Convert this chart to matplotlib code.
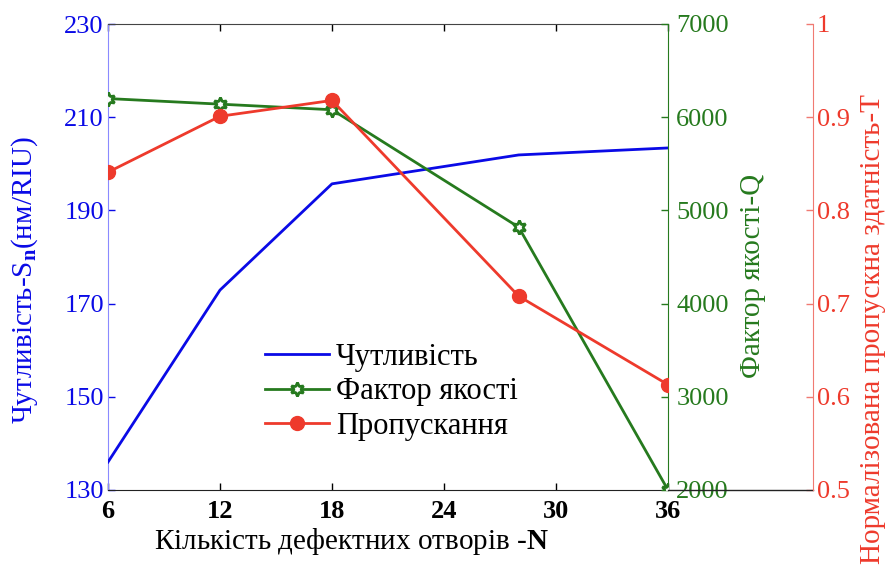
import matplotlib
matplotlib.use("Agg")
import matplotlib.pyplot as plt
from matplotlib.lines import Line2D

plt.rcParams['font.family'] = ['Liberation Serif', 'DejaVu Serif']
plt.rcParams['mathtext.fontset'] = 'custom'
plt.rcParams['mathtext.rm'] = 'Liberation Serif'
plt.rcParams['mathtext.it'] = 'Liberation Serif:italic'
plt.rcParams['mathtext.bf'] = 'Liberation Serif:bold'

# Number of defect holes
holes = [6, 12, 18, 28, 36]
# Sensitivity, nm/RIU
sensitivity = [136.0, 172.9, 195.7, 201.9, 203.4]
# Quality factor
quality = [6200, 6140, 6080, 4820, 2000]
# Normalized transmission
transmission = [0.841, 0.901, 0.918, 0.708, 0.613]

x_ticks = [6, 12, 18, 24, 30, 36]
s_ticks = [130, 150, 170, 190, 210, 230]
q_ticks = [2000, 3000, 4000, 5000, 6000, 7000]
t_ticks = [0.5, 0.6, 0.7, 0.8, 0.9, 1.0]
t_labels = ['0.5', '0.6', '0.7', '0.8', '0.9', '1']

BLUE = '#0a0ae6'
GREEN = '#267a1e'
RED = '#ee3a2c'
FS_TICK = 19
FS_LAB = 21
FS_LEG = 22

W, H = 890, 580
fig = plt.figure(figsize=(W / 100, H / 100), dpi=100)
L, R, T, B = 108, 668, 24, 490
ax = fig.add_axes([L / W, 1 - B / H, (R - L) / W, (B - T) / H])
axq = ax.twinx()
axt = ax.twinx()

ln_s, = ax.plot(holes, sensitivity, color=BLUE, lw=2.0, label='Чутливість', zorder=3)
ln_q, = axq.plot(holes, quality, color=GREEN, lw=2.0, marker=(6, 1, 0),
                 markersize=10, markerfacecolor='white', markeredgecolor=GREEN,
                 markeredgewidth=2.0, label='Фактор якості', zorder=4)
ln_t, = axt.plot(holes, transmission, color=RED, lw=2.0, marker='o',
                 markersize=10, markerfacecolor=RED, markeredgecolor=RED,
                 label='Пропускання', zorder=3)

# x axis
ax.set_xlim(6, 36)
ax.set_xticks(x_ticks)
ax.set_xticklabels([str(v) for v in x_ticks], fontsize=FS_TICK, fontweight='bold')
ax.tick_params(axis='x', direction='in', top=True, length=5, width=1, pad=7,
               colors='black')

# sensitivity axis
ax.set_ylim(130, 230)
ax.set_yticks(s_ticks)
ax.set_yticklabels([str(v) for v in s_ticks], fontsize=FS_TICK, color=BLUE)
ax.tick_params(axis='y', direction='in', length=5, width=1, pad=3, color=BLUE)
ax.spines['left'].set_color('#8a8aff')
ax.spines['top'].set_color('#444444')
ax.spines['bottom'].set_color('#222222')
ax.spines['right'].set_visible(False)
ax.set_ylabel('Чутливість-S$_{\\mathbf{n}}$(нм/RIU)', fontsize=FS_LAB, color=BLUE)
ax.yaxis.set_label_coords(-0.121, 0.45)
ax.set_xlabel('Кількість дефектних отворів -$\\mathbf{N}$', fontsize=FS_LAB)
ax.xaxis.set_label_coords(0.434, -0.078)

# quality factor axis
axq.set_ylim(2000, 7000)
axq.set_yticks(q_ticks)
axq.set_yticklabels([str(v) for v in q_ticks], fontsize=FS_TICK, color=GREEN)
axq.tick_params(axis='y', direction='in', length=5, width=1, pad=6, color=GREEN)
for s in ['left', 'top', 'bottom']:
    axq.spines[s].set_visible(False)
axq.spines['right'].set_color(GREEN)
axq.set_ylabel('Фактор якості-Q', fontsize=FS_LAB, color=GREEN)
axq.yaxis.set_label_coords(1.129, 0.46)

# transmission axis, offset to the right
off = (813 - L) / (R - L)
axt.spines['right'].set_position(('axes', off))
for s in ['left', 'top', 'bottom']:
    axt.spines[s].set_visible(False)
axt.spines['right'].set_color('#f07a72')
axt.set_ylim(0.5, 1.0)
axt.set_yticks(t_ticks)
axt.set_yticklabels(t_labels, fontsize=FS_TICK, color=RED)
axt.tick_params(axis='y', direction='in', length=5, width=1, pad=3, color='#f07a72')
axt.set_ylabel('Нормалізована пропускна здатність-Т', fontsize=FS_LAB, color=RED)
axt.yaxis.set_label_coords(1.343, 0.345)

# bottom rule continued out to the offset axis
axt.add_line(Line2D([1.0, off], [0, 0], transform=axt.transAxes, color='#222222',
                    lw=1.0, clip_on=False))

leg = axt.legend(handles=[ln_s, ln_q, ln_t], loc='upper left',
                 bbox_to_anchor=(265 / W, 1 - 343 / H), bbox_transform=fig.transFigure,
                 frameon=False, fontsize=FS_LEG, handlelength=2.1, handletextpad=0.22,
                 labelspacing=0.18, borderpad=0, borderaxespad=0)

fig.savefig('out.png', dpi=100)
